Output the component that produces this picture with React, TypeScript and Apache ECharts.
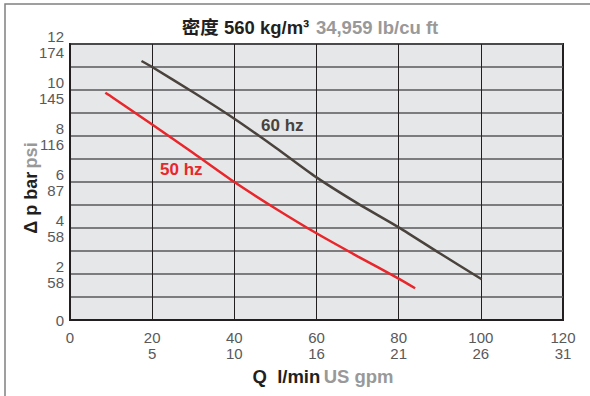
import React, { useEffect, useRef } from "react";
import * as echarts from "echarts";

const xTicksLpm = [0, 20, 40, 60, 80, 100, 120];
const xTicksGpm = ["", "5", "10", "16", "21", "26", "31"];
const yTicksBar = [0, 2, 4, 6, 8, 10, 12];
const yTicksPsi = ["", "58", "58", "87", "116", "145", "174"];

const hz60Q = [17.4, 20, 30, 40, 50, 60, 70, 80, 90, 100.2];
const hz60P = [11.26, 11.0, 9.9, 8.75, 7.5, 6.2, 5.07, 4.03, 2.9, 1.77];
const hz50Q = [8.6, 10, 20, 30, 40, 50, 60, 70, 80, 84];
const hz50P = [9.88, 9.72, 8.5, 7.26, 6.0, 4.85, 3.77, 2.77, 1.8, 1.38];

const FONT = "'Liberation Sans', Arial, 'Noto Sans CJK SC', sans-serif";

export default function App() {
  const ref = useRef<HTMLDivElement>(null);
  useEffect(() => {
    if (!ref.current) return;
    const chart = echarts.init(ref.current, null, { renderer: "svg" });
    const pairs = (q: number[], p: number[]) => q.map((v, i) => [v, p[i]]);
    const rich = (size: number) => ({
      a: { fontFamily: FONT, fontSize: size, fontWeight: "bold", fill: "#231f20" },
      b: { fontFamily: FONT, fontSize: size, fontWeight: "bold", fill: "#999999" },
    });
    chart.setOption({
      animation: false,
      textStyle: { fontFamily: FONT },
      grid: {
        left: 70,
        right: 27,
        top: 44,
        bottom: 76,
        show: true,
        backgroundColor: "#e6e7e8",
        borderColor: "#231f20",
        borderWidth: 2,
      },
      xAxis: {
        type: "value",
        min: 0,
        max: 120,
        interval: 20,
        axisLine: { show: true, lineStyle: { color: "#231f20", width: 2 } },
        axisTick: { show: false },
        splitLine: { show: true, lineStyle: { color: "#231f20", width: 1 } },
        axisLabel: {
          margin: 9,
          color: "#58595b",
          fontFamily: FONT,
          fontSize: 15,
          lineHeight: 16,
          formatter: (v: number) => {
            const i = xTicksLpm.indexOf(v);
            if (i < 0) return "";
            return xTicksGpm[i] ? `${xTicksLpm[i]}\n${xTicksGpm[i]}` : `${xTicksLpm[i]}`;
          },
        },
      },
      yAxis: {
        type: "value",
        min: 0,
        max: 12,
        interval: 1,
        axisLine: { show: true, lineStyle: { color: "#231f20", width: 2 } },
        axisTick: { show: false },
        splitLine: { show: true, lineStyle: { color: "#58595b", width: 1.5 } },
        axisLabel: {
          margin: 6,
          color: "#58595b",
          fontFamily: FONT,
          fontSize: 15,
          lineHeight: 16,
          formatter: (v: number) => {
            const i = yTicksBar.indexOf(v);
            if (i < 0) return "";
            return yTicksPsi[i] ? `${yTicksBar[i]}\n${yTicksPsi[i]}` : `${yTicksBar[i]}`;
          },
        },
      },
      series: [
        {
          name: "60 hz",
          type: "line",
          data: pairs(hz60Q, hz60P),
          smooth: 0.25,
          showSymbol: false,
          symbol: "none",
          lineStyle: { color: "#4a423c", width: 2.5 },
        },
        {
          name: "50 hz",
          type: "line",
          data: pairs(hz50Q, hz50P),
          smooth: 0.25,
          showSymbol: false,
          symbol: "none",
          lineStyle: { color: "#e8262b", width: 2.5 },
        },
      ],
      graphic: [
        {
          type: "rect",
          shape: { x: 5, y: 4, width: 700, height: 500 },
          style: { fill: "none", stroke: "#808080", lineWidth: 1.5 },
          silent: true,
        },
        {
          type: "text",
          x: 310,
          y: 27,
          style: {
            text: "{a|密度 560 kg/m³}  {b|34,959 lb/cu ft}",
            align: "center",
            verticalAlign: "middle",
            rich: rich(18.5),
          },
        },
        {
          type: "text",
          x: 323,
          y: 376,
          style: {
            text: "{a|Q  l/min} {b|US gpm}",
            align: "center",
            verticalAlign: "middle",
            rich: rich(18.5),
          },
        },
        {
          type: "text",
          x: 31,
          y: 188,
          rotation: Math.PI / 2,
          style: {
            text: "{a|Δ p bar} {b|psi}",
            align: "center",
            verticalAlign: "middle",
            rich: rich(18),
          },
        },
        {
          type: "text",
          left: 261,
          top: 117,
          style: { text: "60 hz", fill: "#4a423c", font: `bold 17px ${FONT}` },
        },
        {
          type: "text",
          left: 160,
          top: 161,
          style: { text: "50 hz", fill: "#e8262b", font: `bold 17px ${FONT}` },
        },
      ],
    });
    return () => chart.dispose();
  }, []);
  return (
    <div
      ref={ref}
      style={{ position: "fixed", left: 0, top: 0, width: 590, height: 396, background: "#fff" }}
    />
  );
}
